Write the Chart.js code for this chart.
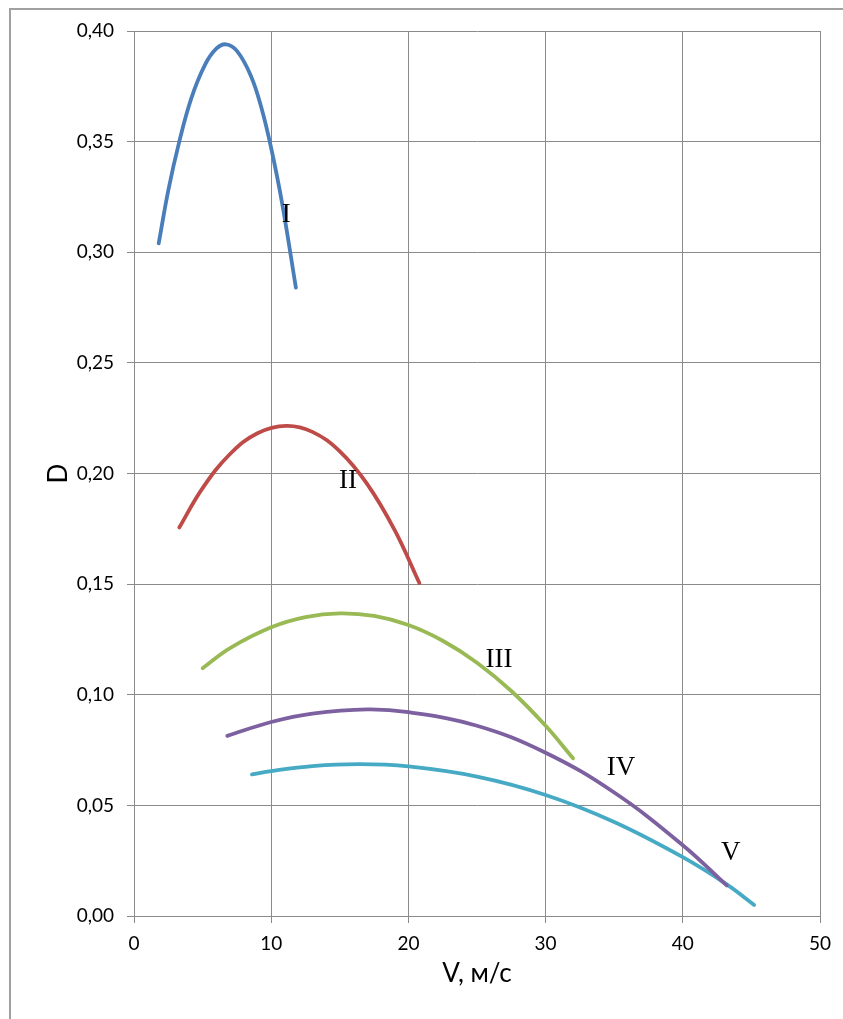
<!DOCTYPE html>
<html>
<head>
<meta charset="utf-8">
<script src="https://cdn.jsdelivr.net/npm/chart.js@4/dist/chart.umd.min.js"></script>
<style>
  html, body { margin: 0; padding: 0; background: #fff; }
  #wrap { position: relative; width: 843px; height: 1019px; overflow: hidden; }
  #frame { position: absolute; left: 9px; top: 8px; width: 900px; height: 1100px;
           border-top: 2px solid #a0a0a0; border-left: 2px solid #a0a0a0; box-sizing: border-box; }
  canvas { position: absolute; left: 0; top: 0; }
</style>
</head>
<body>
<div id="wrap">
  <div id="frame"></div>
  <canvas id="chart" width="843" height="1019"></canvas>
</div>
<script>
// Speed V (m/s) and coefficient D for regimes I–V
const vI   = [1.8, 2.5, 3.3, 4.2, 5.2, 6.0, 6.7, 7.5, 8.5, 9.3, 10.0, 10.8, 11.8];
const dI   = [0.304, 0.328, 0.350, 0.370, 0.385, 0.392, 0.394, 0.391, 0.380, 0.365, 0.347, 0.322, 0.284];

const vII  = [3.3, 5.0, 7.0, 9.0, 11.1, 13.0, 15.0, 17.0, 19.0, 20.8];
const dII  = [0.1756, 0.1934, 0.2088, 0.2182, 0.2215, 0.2188, 0.2100, 0.1952, 0.1744, 0.1505];

const vIII = [5.0, 7.0, 10.0, 12.5, 15.0, 17.5, 20.0, 22.5, 25.0, 27.5, 30.0, 32.0];
const dIII = [0.112, 0.1211, 0.1305, 0.1351, 0.1368, 0.1356, 0.1315, 0.1244, 0.1145, 0.1017, 0.0860, 0.0713];

const vIV  = [6.8, 10.0, 13.0, 17.0, 20.0, 25.0, 30.0, 35.0, 40.0, 43.2];
const dIV  = [0.0814, 0.0877, 0.0915, 0.0934, 0.0921, 0.0860, 0.0738, 0.0558, 0.0320, 0.0138];

const vV   = [8.6, 10.0, 13.0, 16.4, 20.0, 25.0, 30.0, 35.0, 40.0, 43.2, 45.2];
const dV   = [0.0640, 0.0655, 0.0677, 0.0686, 0.0676, 0.0630, 0.0547, 0.0425, 0.0266, 0.0143, 0.0050];

const seriesNames  = ['I', 'II', 'III', 'IV', 'V'];
const seriesColors = ['#4a7ebb', '#be4b48', '#98b954', '#7d60a0', '#46aac5'];

// Curve captions, anchored in data coordinates (V, D)
const captionV = [11.1, 15.6, 26.6, 35.5, 43.5];
const captionD = [0.317, 0.1966, 0.1157, 0.0669, 0.0285];

const xTicks = [0, 10, 20, 30, 40, 50];
const yTicks = [0, 0.05, 0.10, 0.15, 0.20, 0.25, 0.30, 0.35, 0.40];

const seriesV = [vI, vII, vIII, vIV, vV];
const seriesD = [dI, dII, dIII, dIV, dV];

const datasets = seriesNames.map((name, i) => ({
  label: name,
  data: seriesV[i].map((v, j) => ({ x: v, y: seriesD[i][j] })),
  borderColor: seriesColors[i],
  backgroundColor: seriesColors[i],
  borderWidth: 3.8,
  borderCapStyle: 'round',
  borderJoinStyle: 'round',
  pointRadius: 0,
  pointHoverRadius: 0,
  showLine: true,
  fill: false,
  tension: 0.4
}));

const captionPlugin = {
  id: 'captions',
  afterDatasetsDraw(chart) {
    const { ctx, scales: { x, y } } = chart;
    ctx.save();
    ctx.fillStyle = '#000';
    ctx.font = '27px "Liberation Serif", "Times New Roman", serif';
    ctx.textAlign = 'center';
    ctx.textBaseline = 'middle';
    seriesNames.forEach((name, i) => {
      ctx.fillText(name, x.getPixelForValue(captionV[i]), y.getPixelForValue(captionD[i]));
    });
    ctx.restore();
  }
};

const gridColor = '#8a8a8a';
const tickFont = { family: 'Lato, "Open Sans", sans-serif', size: 19 };
const titleFont = { family: 'Lato, "Open Sans", sans-serif', size: 26 };

new Chart(document.getElementById('chart'), {
  type: 'scatter',
  data: { datasets },
  plugins: [captionPlugin],
  options: {
    responsive: false,
    animation: false,
    events: [],
    layout: { padding: { left: 0, right: 23, top: 31, bottom: 0 } },
    plugins: { legend: { display: false }, tooltip: { enabled: false } },
    scales: {
      x: {
        type: 'linear',
        min: 0, max: 50,
        afterBuildTicks(scale) { scale.ticks = xTicks.map(v => ({ value: v })); },
        afterFit(scale) { scale.height = 103; },
        grid: { color: gridColor, lineWidth: 1, tickLength: 7, drawTicks: true },
        border: { color: gridColor, width: 1 },
        ticks: { color: '#000', font: tickFont, padding: 9, maxRotation: 0,
                 callback: v => String(v) },
        title: { display: true, text: 'V, м/с', color: '#000', font: titleFont,
                 padding: { top: 0, bottom: 30 } }
      },
      y: {
        type: 'linear',
        min: 0, max: 0.4,
        afterBuildTicks(scale) { scale.ticks = yTicks.map(v => ({ value: v })); },
        afterFit(scale) { scale.width = 134; },
        grid: { color: gridColor, lineWidth: 1, tickLength: 7, drawTicks: true },
        border: { color: gridColor, width: 1 },
        ticks: { color: '#000', font: tickFont, padding: 13,
                 callback: v => Number(v).toFixed(2).replace('.', ',') },
        title: { display: true, text: 'D', color: '#000', font: titleFont,
                 padding: { top: 43, bottom: 0 } }
      }
    }
  }
});
</script>
</body>
</html>
